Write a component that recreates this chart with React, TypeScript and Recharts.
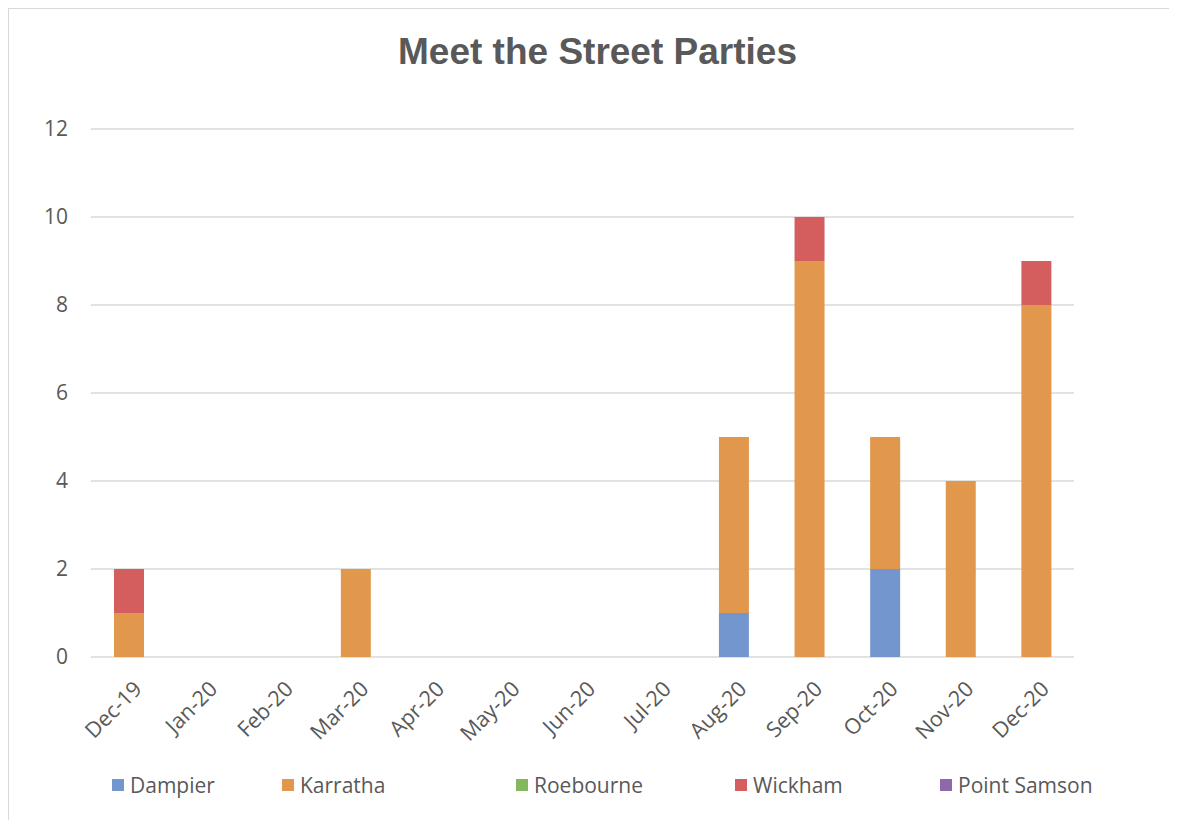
import React from "react";
import { BarChart, Bar, XAxis, YAxis, CartesianGrid, Legend } from "recharts";

const months = ["Dec-19", "Jan-20", "Feb-20", "Mar-20", "Apr-20", "May-20", "Jun-20", "Jul-20", "Aug-20", "Sep-20", "Oct-20", "Nov-20", "Dec-20"];
const dampier = [0, 0, 0, 0, 0, 0, 0, 0, 1, 0, 2, 0, 0];
const karratha = [1, 0, 0, 2, 0, 0, 0, 0, 4, 9, 3, 4, 8];
const roebourne = [0, 0, 0, 0, 0, 0, 0, 0, 0, 0, 0, 0, 0];
const wickham = [1, 0, 0, 0, 0, 0, 0, 0, 0, 1, 0, 0, 1];
const pointSamson = [0, 0, 0, 0, 0, 0, 0, 0, 0, 0, 0, 0, 0];
const yTicks = [0, 2, 4, 6, 8, 10, 12];

const series = [
  { key: "Dampier", values: dampier, color: "#7396CE" },
  { key: "Karratha", values: karratha, color: "#E2984C" },
  { key: "Roebourne", values: roebourne, color: "#84B85C" },
  { key: "Wickham", values: wickham, color: "#D45E5E" },
  { key: "Point Samson", values: pointSamson, color: "#8F68AA" },
];

const data = months.map((m, i) => {
  const row: Record<string, any> = { month: m };
  series.forEach((s) => (row[s.key] = s.values[i]));
  return row;
});

const FONT = "'Open Sans', sans-serif";
const TEXT = "#595959";
const legendWidths = [170, 234, 219, 205, 160];

const XTick = (props: any) => {
  const { x, y, payload } = props;
  const tx = x + 9;
  const ty = y + 26;
  return (
    <text
      x={tx}
      y={ty}
      transform={`rotate(-45 ${tx} ${ty})`}
      textAnchor="end"
      dy="0.35em"
      fill={TEXT}
      fontSize={21.5}
      fontFamily={FONT}
    >
      {payload.value}
    </text>
  );
};

const LegendContent = () => (
  <div style={{ display: "flex", alignItems: "center", height: 30, paddingLeft: 103, fontFamily: FONT, fontSize: 21, color: TEXT }}>
    {series.map((s, i) => (
      <div key={s.key} style={{ display: "flex", alignItems: "center", width: legendWidths[i], flex: "none" }}>
        <span style={{ display: "inline-block", width: 12, height: 12, background: s.color, marginRight: 6 }} />
        <span style={{ lineHeight: "30px" }}>{s.key}</span>
      </div>
    ))}
  </div>
);

export default function App() {
  return (
    <div style={{ width: 1169, height: 812, overflow: "hidden", position: "relative", background: "#fff" }}>
      <div
        style={{
          position: "absolute",
          left: 0,
          top: 0,
          width: 1190,
          height: 830,
          borderTop: "1px solid #d9d9d9",
          borderLeft: "1px solid #d9d9d9",
          boxSizing: "border-box",
        }}
      />
      <div
        style={{
          position: "absolute",
          left: 1,
          top: 25,
          width: 1177,
          textAlign: "center",
          fontFamily: "'Liberation Sans', Arial, sans-serif",
          fontWeight: "bold",
          fontSize: 37,
          lineHeight: "37px",
          color: TEXT,
          whiteSpace: "nowrap",
        }}
      >
        Meet the Street Parties
      </div>
      <div style={{ position: "absolute", left: 1, top: 1 }}>
        <BarChart
          width={1168}
          height={811}
          data={data}
          margin={{ top: 120, right: 103, left: 22, bottom: 20 }}
          barSize={30}
        >
          <CartesianGrid vertical={false} stroke="#d9d9d9" strokeWidth={1.5} />
          <XAxis
            dataKey="month"
            axisLine={false}
            tickLine={false}
            tickSize={0}
            height={113}
            interval={0}
            tick={<XTick />}
          />
          <YAxis
            domain={[0, 12]}
            ticks={yTicks}
            axisLine={false}
            tickLine={false}
            tickSize={0}
            tickMargin={23}
            width={60}
            tick={{ fill: TEXT, fontSize: 21, fontFamily: FONT }}
          />
          <Legend
            verticalAlign="bottom"
            content={<LegendContent />}
            wrapperStyle={{ left: 0, width: 1168 }}
          />
          {series.map((s) => (
            <Bar key={s.key} dataKey={s.key} stackId="a" fill={s.color} isAnimationActive={false} />
          ))}
        </BarChart>
      </div>
    </div>
  );
}
